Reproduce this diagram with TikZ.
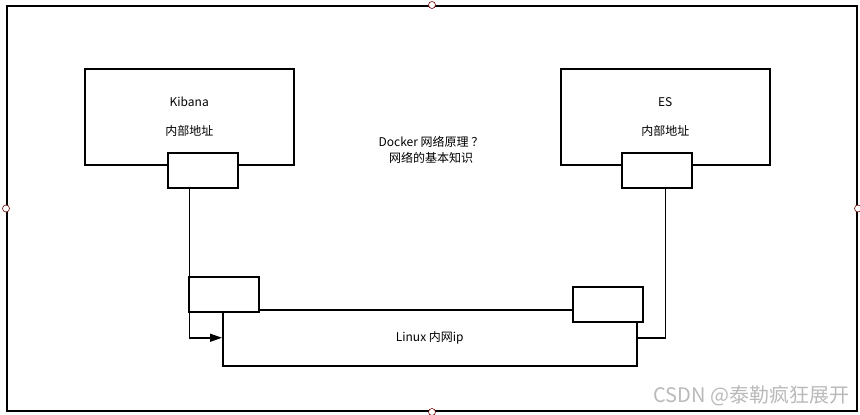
\documentclass[tikz,border=0pt]{standalone}
\usepackage{fontspec}
\newfontfamily\cjk{Noto Sans CJK SC}
\usetikzlibrary{arrows.meta}

\begin{document}
\begin{tikzpicture}[x=1pt,y=-1pt,
		box/.style={draw, line width=1.5pt, fill=white, inner sep=0pt, anchor=north west, align=center, font=\cjk\fontsize{12}{16}\selectfont},
		handle/.style={circle, draw=red!45!black, fill=white, line width=0.6pt, minimum size=7pt, inner sep=0pt},
		conn/.style={line width=1.5pt}]
		\useasboundingbox (0,0) rectangle (860,415);
		% Рамка
		\node[draw, line width=2pt, minimum width=850pt, minimum height=405pt, anchor=north west] (frame) at (6,5) {};
		\node[handle] (hn) at (frame.north) {};
		\node[handle] (hs) at (frame.south) {};
		\node[handle] (hw) at (frame.west) {};
		\node[handle] (he) at (frame.east) {};
		
		% Linux
		\node[box, minimum width=414pt, minimum height=56pt] (linux) at (222,309) {Linux 内网ip};
		\node[box, minimum width=70pt, minimum height=35pt] (lveth) at (188,276) {};
		\node[box, minimum width=70pt, minimum height=35pt] (rveth) at (572,286) {};
		
		% Kibana
		\def\boxw{209pt}
		\def\boxh{96pt}
		\node[box, minimum width=\boxw, minimum height=\boxh] (kibana) at (84,68) {Kibana\\[13pt]内部地址};
		\node[box, minimum width=70pt, minimum height=35pt] (kport) at (167,152) {};
		
		% ES
		\node[box, minimum width=\boxw, minimum height=\boxh] (es) at (560,68) {ES\\[13pt]内部地址};
		\node[box, minimum width=70pt, minimum height=35pt] (esport) at (621,152) {};
		
		\node[draw=none, align=center, font=\cjk\fontsize{12}{16}\selectfont] (title) at (431,150) {Docker 网络原理 ？\\网络的基本知识};
		
		\draw[conn, -{Triangle[length=12pt,width=8pt]}] (kport.south -| kibana.south) |- (linux.west);
		\draw[conn] (esport.south -| es.south) |- (linux.east);
		
		\node[draw=none, anchor=east, text=gray!55, font=\cjk\fontsize{20}{20}\selectfont] (mark) at (853,396) {CSDN @泰勒疯狂展开};
	\end{tikzpicture}
\end{document}
